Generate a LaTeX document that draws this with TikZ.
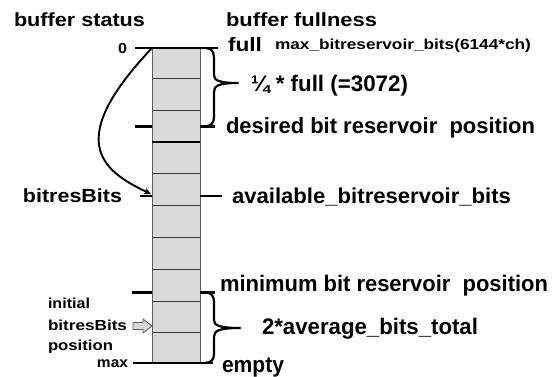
\documentclass[tikz,border=0pt]{standalone}
\usepackage{fontspec}
\setmainfont{Liberation Sans}
\usepackage{graphicx}
\usetikzlibrary{arrows.meta}
\definecolor{cellfill}{RGB}{217,217,217}
\definecolor{colborder}{RGB}{95,95,95}
\definecolor{celldiv}{RGB}{55,55,55}
\newcommand{\TX}[3]{\resizebox{#2pt}{\height}{\fontsize{#1pt}{#1pt}\selectfont\bfseries #3}}
\begin{document}
\begin{tikzpicture}[x=1pt,y=-1pt,
  lbl/.style={anchor=base west, inner sep=0pt, outer sep=0pt},
  lblr/.style={anchor=base east, inner sep=0pt, outer sep=0pt},
  thickline/.style={line width=2.4pt, black},
  bracestyle/.style={line width=2.2pt, black, line cap=round, line join=round},
  cellline/.style={line width=0.9pt, celldiv},
  curvearrow/.style={line width=1.9pt, black, -{Stealth[length=7pt,width=6.5pt]}}]
\useasboundingbox (0,0) rectangle (552,377);
% column of cells
\node[draw=colborder, fill=cellfill, line width=1.3pt, minimum width=48pt, minimum height=315pt,
      inner sep=0pt, anchor=north west] (col) at (152,48) {};
\foreach \yy in {78,110,173,205.5,237,269,301,332}
  \draw[cellline] (152,\yy) -- (200,\yy);
\draw[line width=1.6pt, black] (152,142) -- (200,142);
% top and bottom lines
\draw[thickline] (135,48) -- (218,48);
\draw[thickline] (133,363) -- (213,363);
% ticks
\draw[thickline] (135,126.5) -- (152,126.5);
\draw[thickline] (200,126.5) -- (215,126.5);
\draw[thickline] (140,196) -- (152,196);
\draw[thickline] (200,196) -- (222,196);
\draw[thickline] (132,292.5) -- (152,292.5);
\draw[thickline] (200,292.5) -- (215,292.5);
% braces
\draw[bracestyle] (205,48) .. controls (211,48) and (214,51) .. (214,58) -- (214,75)
   .. controls (214,80) and (218,83) .. (238,83)
   .. controls (218,83) and (214,86) .. (214,92) -- (214,117)
   .. controls (214,123) and (211,126.5) .. (204,126.5);
\draw[bracestyle] (205,292.5) .. controls (211,292.5) and (214,295.5) .. (214,302) -- (214,320)
   .. controls (214,325) and (218,328) .. (240,328)
   .. controls (218,328) and (214,331) .. (214,337) -- (214,354)
   .. controls (214,360) and (211,363) .. (204,363);
% curved arrow
\coordinate (arrEnd) at (151,194);
\draw[curvearrow] (col.north west) .. controls (65,140) and (100,170) .. (arrEnd);
% hollow arrow
\draw[fill=cellfill, draw=colborder, line width=0.9pt, line join=miter]
  (133,322.5) -- (143,322.5) -- (143,319) -- (152,326) -- (143,333) -- (143,329.5) -- (133,329.5) -- cycle;
% texts
\node[lbl] (bstatus) at (14,26.5) {\TX{19}{131}{buffer status}};
\node[lbl] (bfull) at (226,26.5) {\TX{19}{151}{buffer fullness}};
\node[lbl] (full) at (228,52) {\TX{19.5}{34}{full}};
\node[lbl] (maxbits) at (275,50) {\TX{14.5}{256}{max\_bitreservoir\_bits(6144*ch)}};
\node[lbl] (quarter) at (251,91.5) {\TX{22.5}{157}{¼ * full (=3072)}};
\node[lbl] (desired) at (226,133.5) {\TX{22}{309}{desired bit reservoir\ \ position}};
\node[lbl] (bitres) at (23,202.5) {\TX{19}{99}{bitresBits}};
\node[lbl] (avail) at (232,203.5) {\TX{21.5}{279}{available\_bitreservoir\_bits}};
\node[lbl] (minimum) at (220,291.5) {\TX{22.5}{328}{minimum bit reservoir\ \ position}};
\node[lbl] (avg) at (262,334.5) {\TX{22.5}{216}{2*average\_bits\_total}};
\node[lbl] (empty) at (222,372.5) {\TX{22.5}{62}{empty}};
\node[lbl] (initial) at (48,308) {\TX{14.5}{42}{initial}};
\node[lbl] (bitres2) at (48,330) {\TX{14.5}{79}{bitresBits}};
\node[lbl] (position) at (48,350.5) {\TX{14.5}{65}{position}};
\node[lblr] (maxlbl) at (128,367.5) {\TX{14.5}{31}{max}};
\node[lblr] (zero) at (127,53.5) {\TX{14.5}{9}{0}};
\end{tikzpicture}
\end{document}
